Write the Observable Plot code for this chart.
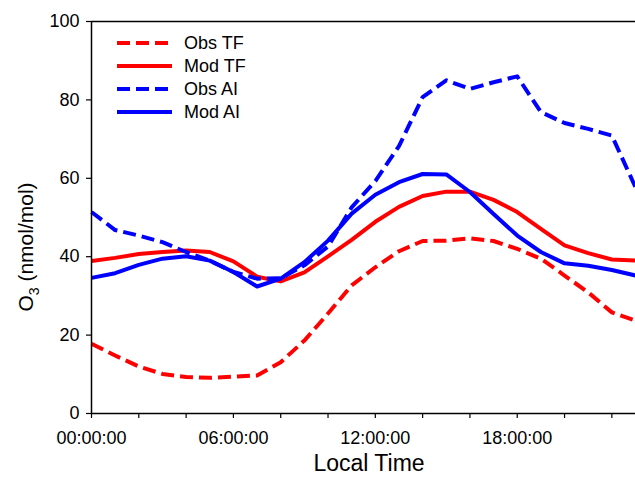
<!DOCTYPE html>
<html>
<head>
<meta charset="utf-8">
<script src="https://cdn.jsdelivr.net/npm/d3@7"></script>
<script src="https://cdn.jsdelivr.net/npm/@observablehq/plot@0.6"></script>
<style>
  html, body { margin: 0; padding: 0; background: white; }
  svg { display: block; }
</style>
</head>
<body>
<div id="chart"></div>
<script>
// Hours of the day (local time)
const hours = [0,1,2,3,4,5,6,7,8,9,10,11,12,13,14,15,16,17,18,19,20,21,22,23];

// O3 (nmol/mol) series
const obsTF = [17.8,14.8,12.0,10.1,9.3,9.1,9.4,9.7,13.1,18.6,25.5,32.7,37.3,41.4,44.0,44.1,44.7,44.0,42.0,39.5,35.2,30.9,25.8,23.7];
const modTF = [38.9,39.7,40.7,41.2,41.6,41.2,38.8,34.9,33.7,36.0,40.1,44.3,48.9,52.7,55.5,56.6,56.6,54.5,51.4,47.1,42.9,40.9,39.3,39.0];
const obsAI = [51.4,46.8,45.4,43.7,41.2,39.0,36.1,34.4,34.5,37.8,42.6,52.6,59.3,68.2,80.7,85.0,82.8,84.5,86.0,76.9,74.1,72.6,70.9,57.7];
const modAI = [34.6,35.8,37.9,39.5,40.1,39.0,36.1,32.4,34.4,38.6,44.1,51.0,55.8,59.0,61.1,61.0,56.5,50.9,45.4,41.2,38.3,37.7,36.6,35.2];

const seriesNames = ["Obs TF", "Mod TF", "Obs AI", "Mod AI"];
const seriesValues = [obsTF, modTF, obsAI, modAI];
const seriesColors = ["#ff0000", "#ff0000", "#0000ff", "#0000ff"];
const seriesDashed = [true, false, true, false];

const xTicks = [0,2,4,6,8,10,12,14,16,18,20,22];
const yTicks = [0,20,40,60,80,100];

const pad = n => String(n).padStart(2, "0");
const fmtTime = h => h % 6 === 0 ? `${pad(h)}:00:00` : "";

const rows = [];
seriesNames.forEach((name, s) => {
  hours.forEach((h, i) => rows.push({series: name, hour: h, o3: seriesValues[s][i]}));
});

const lineMarks = seriesNames.map((name, s) =>
  Plot.line(rows.filter(r => r.series === name), {
    x: "hour", y: "o3",
    stroke: seriesColors[s], strokeWidth: 4,
    strokeDasharray: seriesDashed[s] ? "13,6" : null,
    strokeLinejoin: "round", strokeLinecap: "butt"
  })
);

const chart = Plot.plot({
  width: 635, height: 477,
  marginLeft: 91, marginRight: 0, marginTop: 21, marginBottom: 64,
  style: {fontFamily: "'Liberation Sans', Arial, sans-serif", fontSize: "18px", color: "black", background: "white", overflow: "visible"},
  x: {domain: [0, 23]},
  y: {domain: [0, 100]},
  marks: [
    ...lineMarks,
    Plot.ruleY([100], {stroke: "black", strokeWidth: 1.5}),
    Plot.ruleY([0], {stroke: "black", strokeWidth: 1.5}),
    Plot.ruleX([0], {stroke: "black", strokeWidth: 1.5}),
    Plot.axisX({ticks: xTicks, tickFormat: fmtTime, tickSize: 5, tickPadding: 13, label: null, stroke: "black", strokeWidth: 1.2, fill: "black", fontSize: 18}),
    Plot.axisY({ticks: yTicks, tickSize: 5, tickPadding: 7, label: null, stroke: "black", strokeWidth: 1.2, fill: "black", fontSize: 18})
  ]
});

const svg = d3.select(chart);
const font = "'Liberation Sans', Arial, sans-serif";

// Legend
const lg = svg.append("g").attr("font-family", font).attr("font-size", 18).attr("text-anchor", "start");
seriesNames.forEach((name, s) => {
  const y = 43 + s * 23;
  lg.append("line").attr("x1", 117).attr("x2", 172).attr("y1", y).attr("y2", y)
    .attr("stroke", seriesColors[s]).attr("stroke-width", 4)
    .attr("stroke-dasharray", seriesDashed[s] ? "13,6" : null);
  lg.append("text").attr("x", 184).attr("y", y).attr("dy", "0.35em").attr("fill", "black")
    .attr("text-anchor", "start").text(name);
});

// Axis titles
svg.append("text").attr("x", 369).attr("y", 471).attr("text-anchor", "middle")
  .attr("font-family", font).attr("font-size", 23).attr("fill", "black").text("Local Time");

const yt = svg.append("text").attr("transform", "translate(33,247) rotate(-90)")
  .attr("text-anchor", "middle").attr("font-family", font).attr("font-size", 21).attr("fill", "black");
yt.append("tspan").text("O");
yt.append("tspan").attr("font-size", 14).attr("dy", 6).text("3");
yt.append("tspan").attr("dy", -6).text(" (nmol/mol)");

document.getElementById("chart").appendChild(chart);
</script>
</body>
</html>
